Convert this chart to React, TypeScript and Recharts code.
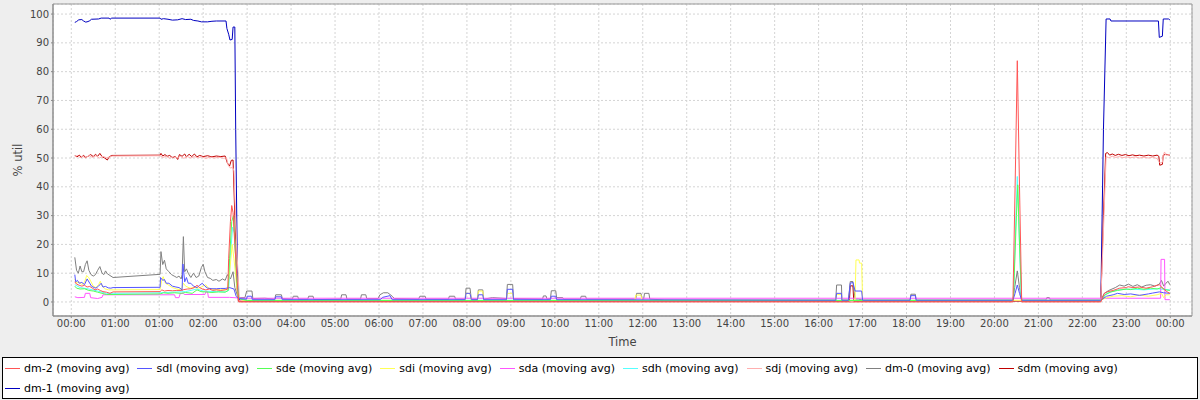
import React from 'react';
import { LineChart, Line, XAxis, YAxis, CartesianGrid, Legend, ReferenceArea } from 'recharts';

type Pt = [number, number];

const FONT = '"DejaVu Sans", sans-serif';

const tickLabels = ['00:00', '01:00', '01:00', '02:00', '03:00', '04:00', '05:00', '06:00', '07:00', '08:00', '09:00', '10:00', '11:00', '12:00', '13:00', '14:00', '15:00', '16:00', '17:00', '18:00', '19:00', '20:00', '21:00', '22:00', '23:00', '00:00'];
const tickPositions = tickLabels.map((_, i) => i);
const yTicks = [0, 10, 20, 30, 40, 50, 60, 70, 80, 90, 100];

const X_MIN = -0.416;
const X_MAX = 25.494;
const Y_MIN = -4.87;
const Y_MAX = 103.5;

const seriesNames = ['dm-2 (moving avg)', 'sdl (moving avg)', 'sde (moving avg)', 'sdi (moving avg)', 'sda (moving avg)', 'sdh (moving avg)', 'sdj (moving avg)', 'dm-0 (moving avg)', 'sdm (moving avg)', 'dm-1 (moving avg)'];
const seriesColors = ['#ff5555', '#5555ff', '#55ff55', '#ffff55', '#ff55ff', '#55ffff', '#ffafaf', '#808080', '#c00000', '#0000c0'];

// time in hours since 00:00 (axis index), value in % util
const dm2: Pt[] = [[0.08, 7], [0.12, 6.2], [0.18, 5.8], [0.24, 5.5], [0.3, 5.8], [0.36, 5.2], [0.42, 5.4], [0.48, 4.8], [0.54, 4.2], [0.6, 4.5], [0.66, 4.0], [0.72, 3.6], [0.8, 3.4], [0.88, 3.0], [0.95, 3.5], [2.02, 3.6], [2.06, 4.2], [2.12, 3.8], [2.2, 4.0], [2.3, 3.9], [2.4, 4.0], [2.5, 4.0], [2.56, 4.3], [2.64, 4.5], [2.72, 4.6], [2.8, 5.0], [2.86, 5.8], [2.92, 5.0], [2.98, 4.5], [3.06, 4.2], [3.14, 4.5], [3.22, 4.0], [3.3, 4.2], [3.4, 4.0], [3.5, 4.2], [3.56, 4.5], [3.58, 15], [3.62, 28], [3.65, 33.5], [3.68, 31], [3.72, 20], [3.77, 8], [3.81, 0], [21.42, 0], [21.47, 40], [21.52, 83.8], [21.57, 40], [21.62, 0], [23.42, 0], [23.5, 3], [23.58, 3.6], [23.7, 4.0], [23.85, 4.8], [24.0, 5.0], [24.04, 5.3], [24.15, 5.0], [24.3, 5.2], [24.45, 4.8], [24.6, 5.3], [24.75, 6.0], [24.85, 4.5], [24.92, 3.6], [24.99, 3.0]];

const sdl: Pt[] = [[0.08, 9.5], [0.1, 7], [0.14, 7.5], [0.18, 6.5], [0.24, 6.8], [0.3, 6], [0.36, 8.0], [0.42, 6.5], [0.46, 5.5], [0.52, 5], [0.56, 4.8], [0.62, 5.5], [0.68, 6.5], [0.72, 5.2], [0.78, 5.4], [0.84, 4.9], [0.9, 4.8], [0.95, 5.0], [2.02, 5.1], [2.03, 8.5], [2.08, 7.5], [2.12, 7.8], [2.16, 6.5], [2.22, 6.5], [2.3, 5.5], [2.38, 5.2], [2.45, 5.0], [2.5, 4.5], [2.52, 4], [2.54, 13.2], [2.58, 7], [2.62, 8.5], [2.66, 6.5], [2.72, 6.5], [2.78, 5.5], [2.86, 5], [2.92, 5.8], [2.98, 6.5], [3.04, 5.5], [3.1, 4.8], [3.2, 4.6], [3.3, 4.6], [3.4, 4.7], [3.5, 4.7], [3.6, 5], [3.7, 4.5], [3.75, 2.0], [3.8, 1.2], [3.99, 1.0], [4.0, 2.0], [4.1, 2.0], [4.12, 0.8], [4.63, 0.8], [4.65, 1.8], [4.78, 1.8], [4.8, 0.8], [7.03, 0.8], [7.08, 1.6], [7.25, 2.2], [7.3, 0.8], [8.96, 0.8], [8.98, 3.0], [9.07, 3.0], [9.1, 0.8], [9.24, 0.8], [9.26, 2.5], [9.36, 2.5], [9.38, 0.8], [9.9, 0.8], [9.92, 4.4], [10.04, 4.4], [10.06, 0.8], [10.9, 0.8], [10.92, 2.0], [11.02, 2.0], [11.04, 0.8], [17.39, 0.6], [17.41, 3.0], [17.52, 3.0], [17.53, 0.6], [17.68, 0.6], [17.72, 6.5], [17.78, 6.8], [17.83, 3.8], [17.98, 3.8], [18.0, 0.6], [19.08, 0.6], [19.1, 2.2], [19.2, 2.2], [19.22, 0.6], [21.42, 0.6], [21.47, 3], [21.52, 5.9], [21.57, 3], [21.62, 0.6], [23.42, 0.6], [23.55, 2], [23.7, 2.5], [23.8, 3], [23.95, 2.6], [24.1, 2.8], [24.3, 2.3], [24.5, 2.8], [24.6, 3.1], [24.75, 3.5], [24.85, 3.2], [24.99, 3.0]];

const sde: Pt[] = [[0.08, 5.5], [0.12, 4.8], [0.2, 4.5], [0.3, 4.6], [0.4, 4.0], [0.5, 3.8], [0.6, 3.4], [0.7, 3.0], [0.8, 2.6], [0.95, 2.6], [2.02, 2.8], [2.1, 3.2], [2.2, 3.0], [2.35, 3.2], [2.5, 3.0], [2.6, 3.3], [2.75, 3.0], [2.86, 4.2], [2.95, 3.6], [3.05, 3.5], [3.2, 3.3], [3.35, 3.5], [3.5, 3.4], [3.57, 4], [3.6, 15], [3.65, 28], [3.69, 30], [3.72, 22], [3.76, 8], [3.8, 2], [3.84, 1.0], [4.0, 0.5], [21.43, 0.5], [21.5, 30], [21.53, 40.7], [21.57, 20], [21.62, 0.5], [23.42, 0.5], [23.52, 2.5], [23.65, 3.5], [23.8, 4.0], [24.0, 4.5], [24.1, 4.3], [24.25, 4.8], [24.4, 4.4], [24.55, 4.8], [24.7, 4.5], [24.8, 5], [24.9, 4.2], [24.99, 4.0]];

const sdi: Pt[] = [[0.08, 8], [0.12, 6.5], [0.18, 7.0], [0.24, 6], [0.3, 6.8], [0.35, 9.2], [0.4, 8.4], [0.45, 7.0], [0.5, 5.5], [0.56, 5.0], [0.62, 6.0], [0.66, 7.2], [0.7, 5.5], [0.76, 4.6], [0.85, 4.2], [0.95, 4.2], [2.02, 4.3], [2.05, 7.0], [2.09, 8.8], [2.14, 6.5], [2.2, 6.0], [2.3, 5.0], [2.4, 4.5], [2.5, 4.2], [2.55, 6.5], [2.6, 5.5], [2.7, 4.8], [2.8, 5.0], [2.9, 4.8], [3.0, 5.5], [3.06, 6.0], [3.12, 4.8], [3.25, 4.3], [3.4, 4.2], [3.55, 4.3], [3.6, 10], [3.66, 20], [3.7, 15], [3.76, 6], [3.8, 1.5], [3.9, 0.6], [8.96, 0.6], [8.98, 3], [9.07, 3], [9.1, 0.6], [9.24, 0.6], [9.26, 3.8], [9.36, 3.8], [9.38, 0.6], [9.9, 0.6], [9.92, 3], [10.04, 3], [10.06, 0.6], [12.82, 0.6], [12.84, 2.4], [12.96, 2.4], [12.98, 0.6], [17.39, 0.6], [17.41, 2.6], [17.52, 2.6], [17.53, 0.6], [17.83, 0.6], [17.85, 14.6], [17.92, 14.6], [17.93, 13.5], [17.98, 13.5], [18.0, 0.6], [23.42, 0.6], [23.55, 1.5], [23.7, 2.0], [23.9, 2.2], [24.1, 1.8], [24.3, 2.4], [24.5, 2.0], [24.7, 2.5], [24.8, 3], [24.85, 1.5], [24.9, 2.5], [24.99, 2.5]];

const sda: Pt[] = [[0.08, 1.8], [0.15, 1.5], [0.3, 1.6], [0.32, 3.0], [0.42, 3.0], [0.44, 1.5], [0.6, 1.2], [0.7, 1.6], [0.72, 2.5], [0.95, 2.5], [2.02, 2.5], [2.35, 2.5], [2.37, 1.5], [2.45, 1.5], [2.48, 3.0], [2.55, 3.0], [2.57, 2.6], [3.04, 2.6], [3.06, 3.5], [3.1, 3.5], [3.12, 1.6], [3.6, 1.6], [3.8, 1.4], [4.0, 1.3], [24.78, 1.3], [24.79, 14.8], [24.87, 14.8], [24.88, 0.8], [24.99, 0.8]];

const sdh: Pt[] = [[0.08, 6], [0.2, 5], [0.4, 4.5], [0.6, 3.8], [0.8, 3.0], [0.95, 3.0], [2.02, 3.2], [2.3, 3.4], [2.6, 3.6], [2.86, 4.5], [3.0, 3.8], [3.3, 3.6], [3.5, 3.5], [3.58, 4], [3.62, 16], [3.67, 26], [3.71, 24], [3.76, 10], [3.81, 2], [3.85, 1.0], [4.0, 0.6], [21.43, 0.6], [21.49, 30], [21.52, 43.6], [21.56, 25], [21.61, 0.6], [23.42, 0.6], [23.55, 3], [23.8, 4.2], [24.1, 4.5], [24.4, 4.2], [24.7, 4.6], [24.99, 4.2]];

const sdj: Pt[] = [[0.08, 50.4], [0.14, 50.9], [0.2, 50.1], [0.26, 50.6], [0.32, 50.0], [0.4, 50.9], [0.48, 50.2], [0.56, 50.8], [0.64, 50.0], [0.72, 50.6], [0.8, 50.1], [0.88, 50.4], [0.94, 50.7], [2.02, 50.8], [2.08, 50.2], [2.16, 50.6], [2.24, 49.9], [2.32, 50.5], [2.4, 50.0], [2.48, 50.6], [2.56, 49.9], [2.64, 50.5], [2.72, 50.0], [2.8, 50.5], [2.88, 50.1], [2.96, 50.4], [3.06, 49.9], [3.16, 50.3], [3.26, 50.0], [3.36, 50.3], [3.46, 49.9], [3.53, 50.1], [3.57, 47.5], [3.62, 46.5], [3.67, 46.8], [3.7, 45.5], [3.76, 20], [3.82, 2], [3.86, 0.5], [23.42, 0.5], [23.48, 25], [23.54, 50.5], [23.6, 50.1], [23.68, 50.6], [23.76, 50.2], [23.84, 50.5], [23.92, 50.1], [24.0, 50.4], [24.1, 50.1], [24.2, 50.4], [24.3, 50.0], [24.4, 50.3], [24.5, 50.0], [24.6, 50.3], [24.7, 49.8], [24.74, 48.8], [24.77, 48.3], [24.82, 48.5], [24.84, 51.0], [24.87, 52.1], [24.9, 51.0], [24.99, 51.2]];

const dm0: Pt[] = [[0.08, 15.5], [0.12, 11], [0.16, 10], [0.2, 12.5], [0.24, 10.5], [0.28, 10.5], [0.32, 13], [0.36, 14.3], [0.4, 11], [0.45, 9.5], [0.5, 9.0], [0.55, 9.5], [0.6, 11], [0.65, 12.3], [0.7, 10], [0.74, 9.5], [0.78, 10.8], [0.82, 9.8], [0.88, 9.2], [0.95, 8.5], [2.02, 9.6], [2.04, 17.5], [2.08, 13], [2.12, 14.5], [2.16, 11.5], [2.22, 10.5], [2.28, 9.5], [2.34, 9], [2.4, 8.5], [2.45, 9], [2.5, 8], [2.52, 9.5], [2.55, 22.7], [2.58, 10.5], [2.62, 11.5], [2.66, 10], [2.72, 8.5], [2.78, 10], [2.84, 8.5], [2.9, 9], [2.96, 12], [3.0, 13.1], [3.04, 10.5], [3.1, 8.5], [3.16, 8.2], [3.22, 7.5], [3.3, 7.8], [3.36, 7.2], [3.44, 8.0], [3.5, 7.5], [3.55, 9.5], [3.62, 8], [3.68, 10.5], [3.72, 5], [3.78, 2.2], [3.82, 1.5], [3.95, 1.5], [3.99, 3.8], [4.11, 3.8], [4.13, 1.2], [4.4, 1.3], [4.63, 1.0], [4.65, 2.5], [4.78, 2.5], [4.8, 1.2], [5.03, 1.0], [5.05, 2.0], [5.15, 2.0], [5.17, 1.0], [5.38, 1.0], [5.4, 2.0], [5.5, 2.0], [5.52, 0.8], [6.13, 1.0], [6.15, 2.5], [6.25, 2.5], [6.27, 1.0], [6.58, 1.0], [6.6, 2.5], [6.7, 2.5], [6.72, 1.2], [6.98, 1.2], [7.02, 2.5], [7.1, 3.2], [7.2, 3.2], [7.3, 2.0], [7.35, 1.2], [7.9, 1.0], [7.93, 2.0], [8.05, 2.0], [8.07, 1.0], [8.58, 1.0], [8.6, 2.0], [8.72, 2.0], [8.74, 1.0], [8.96, 1.0], [8.98, 4.8], [9.07, 4.8], [9.1, 1.0], [9.24, 1.0], [9.26, 4.2], [9.36, 4.2], [9.38, 1.0], [9.58, 1.5], [9.9, 1.2], [9.92, 6.1], [10.04, 6.1], [10.06, 1.2], [10.72, 1.0], [10.74, 2.1], [10.8, 2.1], [10.82, 1.0], [10.9, 1.2], [10.92, 3.9], [11.02, 3.9], [11.04, 1.5], [11.18, 1.5], [11.2, 1.0], [11.58, 1.0], [11.6, 2.0], [11.7, 2.0], [11.72, 1.0], [12.84, 1.0], [12.86, 3.0], [12.96, 3.0], [12.98, 1.0], [13.02, 1.0], [13.04, 3.0], [13.14, 3.0], [13.16, 1.0], [13.5, 0.7], [17.39, 0.7], [17.41, 5.9], [17.52, 5.9], [17.53, 0.7], [17.68, 0.7], [17.72, 7.1], [17.78, 7.1], [17.83, 1.0], [17.9, 1.0], [18.0, 0.7], [19.08, 0.7], [19.1, 2.7], [19.2, 2.7], [19.22, 0.7], [21.42, 0.7], [21.46, 5], [21.52, 10.8], [21.57, 5], [21.62, 0.7], [22.17, 0.7], [22.19, 1.5], [22.25, 1.5], [22.27, 0.7], [23.42, 0.7], [23.5, 3], [23.6, 4], [23.75, 5], [23.85, 5.9], [23.95, 5.5], [24.05, 6.2], [24.15, 5.4], [24.25, 6.0], [24.35, 5.2], [24.45, 5.8], [24.55, 6.0], [24.65, 5.5], [24.75, 6.2], [24.8, 7.5], [24.85, 5.5], [24.9, 6.5], [24.95, 7.2], [24.99, 6.0]];

const sdm: Pt[] = [[0.08, 50.8], [0.13, 50.4], [0.18, 51.0], [0.23, 50.3], [0.28, 50.9], [0.33, 50.2], [0.38, 50.6], [0.44, 51.2], [0.5, 50.5], [0.55, 51.3], [0.6, 50.6], [0.65, 51.6], [0.7, 50.5], [0.76, 50.0], [0.82, 49.3], [0.86, 50.4], [0.92, 50.9], [2.02, 51.0], [2.04, 51.6], [2.08, 50.7], [2.13, 51.2], [2.18, 50.6], [2.24, 50.9], [2.3, 50.1], [2.36, 50.6], [2.42, 49.5], [2.46, 51.2], [2.52, 50.6], [2.58, 51.4], [2.62, 50.4], [2.68, 51.3], [2.74, 50.5], [2.8, 51.4], [2.86, 50.4], [2.92, 50.9], [3.0, 50.5], [3.1, 50.8], [3.2, 50.4], [3.3, 50.7], [3.4, 50.5], [3.5, 50.7], [3.55, 48.3], [3.6, 47.2], [3.64, 49.2], [3.68, 49.3], [3.72, 30], [3.77, 5], [3.8, 0.3], [17.7, 0.3], [17.72, 5.6], [17.78, 5.6], [17.8, 0.3], [23.42, 0.3], [23.48, 30], [23.53, 51.6], [23.57, 51.9], [23.62, 51.0], [23.68, 51.4], [23.75, 50.9], [23.82, 51.3], [23.9, 50.9], [23.98, 51.2], [24.06, 50.8], [24.14, 51.1], [24.22, 50.8], [24.3, 51.0], [24.4, 50.7], [24.5, 51.0], [24.6, 50.7], [24.7, 51.0], [24.74, 50.6], [24.76, 47.5], [24.82, 47.8], [24.84, 51.0], [24.9, 51.3], [24.99, 51.0]];

const dm1: Pt[] = [[0.08, 97.1], [0.12, 97.4], [0.17, 98.0], [0.24, 98.1], [0.28, 97.6], [0.33, 97.2], [0.38, 97.4], [0.42, 97.7], [0.46, 98.2], [0.62, 98.3], [0.68, 98.6], [0.86, 98.6], [0.88, 98.2], [0.92, 98.6], [2.02, 98.6], [2.04, 98.2], [2.1, 98.4], [2.2, 98.2], [2.3, 97.9], [2.42, 98.0], [2.52, 98.4], [2.6, 98.1], [2.72, 98.2], [2.78, 97.8], [2.88, 97.6], [2.96, 97.3], [3.1, 97.3], [3.2, 97.5], [3.3, 97.6], [3.52, 97.6], [3.54, 95], [3.58, 93], [3.61, 91], [3.66, 91.2], [3.68, 95.5], [3.72, 95.5], [3.74, 60], [3.78, 10], [3.81, 1.0], [4.0, 0.5], [23.42, 0.5], [23.48, 60], [23.54, 98.3], [23.63, 98.3], [23.65, 97.6], [24.73, 97.6], [24.75, 91.9], [24.82, 92.3], [24.84, 98.3], [24.96, 98.3], [24.99, 98.0]];

const seriesData: Pt[][] = [dm2, sdl, sde, sdi, sda, sdh, sdj, dm0, sdm, dm1];

const legendRows = [[0, 1, 2, 3, 4, 5, 6, 7, 8], [9]];

const renderLegend = () => (
  <div
    style={{
      boxSizing: 'border-box',
      margin: '0 2px',
      height: 42,
      border: '1px solid #000',
      background: '#fff',
      padding: '1px 0 0 2px',
      fontFamily: FONT,
      fontSize: 11,
      color: '#000',
    }}
  >
    {legendRows.map((row, ri) => (
      <div key={ri} style={{ display: 'flex', height: 19.5, alignItems: 'center' }}>
        {row.map((idx) => (
          <div key={idx} style={{ display: 'flex', alignItems: 'center', marginRight: 8 }}>
            <div style={{ width: 15, height: 1, background: seriesColors[idx], marginRight: 4 }} />
            <span style={{ whiteSpace: 'nowrap' }}>{seriesNames[idx]}</span>
          </div>
        ))}
      </div>
    ))}
  </div>
);

const drawOrder = [9, 8, 7, 6, 5, 4, 3, 2, 1, 0];

export default function App() {
  return (
    <div style={{ position: 'absolute', left: 0, top: 0, width: 1200, height: 400, background: '#eeeeee' }}>
      <LineChart width={1200} height={400} margin={{ top: 4, right: 8, bottom: 0, left: 0 }}>
        <CartesianGrid fill="#ffffff" stroke="#d4d4d4" strokeDasharray="2 2" />
        <XAxis
          dataKey="t"
          type="number"
          domain={[X_MIN, X_MAX]}
          ticks={tickPositions}
          interval={0}
          allowDataOverflow
          tickFormatter={(v: number) => tickLabels[v]}
          tickSize={2}
          stroke="#888888"
          tick={{ fill: '#444444', fontSize: 10, fontFamily: FONT }}
          height={41}
          label={{ value: 'Time', position: 'insideBottom', offset: 11, fill: '#444444', fontSize: 11.5, fontFamily: FONT }}
        />
        <YAxis
          type="number"
          domain={[Y_MIN, Y_MAX]}
          ticks={yTicks}
          interval={0}
          allowDataOverflow
          tickSize={2}
          width={53}
          stroke="#888888"
          tick={{ fill: '#444444', fontSize: 10, fontFamily: FONT }}
          label={{ value: '% util', angle: -90, position: 'insideLeft', offset: 18, fill: '#444444', fontSize: 11.5, fontFamily: FONT, style: { textAnchor: 'middle' } }}
        />
        <ReferenceArea x1={X_MIN} x2={X_MAX} y1={Y_MIN} y2={Y_MAX} fill="none" stroke="#999999" strokeWidth={1} />
        {drawOrder.map((i) => (
          <Line
            key={seriesNames[i]}
            name={seriesNames[i]}
            data={seriesData[i].map(([t, v]) => ({ t, v }))}
            dataKey="v"
            type="linear"
            stroke={seriesColors[i]}
            strokeWidth={1}
            dot={false}
            activeDot={false}
            isAnimationActive={false}
          />
        ))}
        <Legend content={renderLegend} verticalAlign="bottom" wrapperStyle={{ left: 0, bottom: 0, width: 1200, height: 43 }} />
      </LineChart>
    </div>
  );
}
